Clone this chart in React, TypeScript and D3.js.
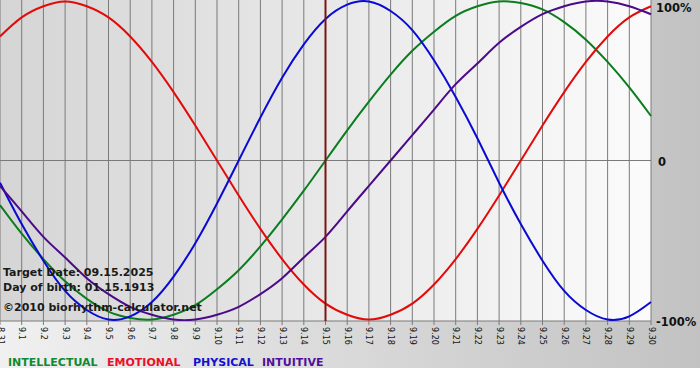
import React from "react";
import * as d3 from "d3";

const days = ["8.31","9.1","9.2","9.3","9.4","9.5","9.6","9.7","9.8","9.9","9.10","9.11","9.12","9.13","9.14","9.15","9.16","9.17","9.18","9.19","9.20","9.21","9.22","9.23","9.24","9.25","9.26","9.27","9.28","9.29","9.30"];

const physical = [-0.14,-0.40,-0.63,-0.82,-0.94,-1.00,-0.98,-0.89,-0.73,-0.52,-0.27,0.00,0.27,0.52,0.73,0.89,0.98,1.00,0.94,0.82,0.63,0.40,0.14,-0.14,-0.40,-0.63,-0.82,-0.94,-1.00,-0.98,-0.89];
const emotional = [0.78,0.90,0.97,1.00,0.97,0.90,0.78,0.62,0.43,0.22,0.00,-0.22,-0.43,-0.62,-0.78,-0.90,-0.97,-1.00,-0.97,-0.90,-0.78,-0.62,-0.43,-0.22,0.00,0.22,0.43,0.62,0.78,0.90,0.97];
const intellectual = [-0.28,-0.46,-0.62,-0.76,-0.87,-0.95,-0.99,-1.00,-0.97,-0.91,-0.81,-0.69,-0.54,-0.37,-0.19,0.00,0.19,0.37,0.54,0.69,0.81,0.91,0.97,1.00,0.99,0.95,0.87,0.76,0.62,0.46,0.28];
const intuitive = [-0.16,-0.32,-0.48,-0.61,-0.74,-0.84,-0.92,-0.97,-1.00,-1.00,-0.97,-0.92,-0.84,-0.74,-0.61,-0.48,-0.32,-0.16,0.00,0.16,0.32,0.48,0.61,0.74,0.84,0.92,0.97,1.00,1.00,0.97,0.92];

const targetIndex = 15;
const yTicks = [1, 0, -1];
const yTickLabels = ["100%", "0", "-100%"];
const infoLines = ["Target Date: 09.15.2025", "Day of birth: 01.15.1913", "\u00a92010 biorhythm-calculator.net"];

const series = [
  { name: "INTELLECTUAL", values: intellectual, color: "#0a7d1e", legend: "#0e8a34" },
  { name: "EMOTIONAL", values: emotional, color: "#e30a0a", legend: "#e8102a" },
  { name: "PHYSICAL", values: physical, color: "#0a0ad2", legend: "#1212d0" },
  { name: "INTUITIVE", values: intuitive, color: "#4b0a8a", legend: "#520f9a" },
];

export default function App() {
  const W = 700, H = 380;
  const plotW = 651, plotB = 321;
  const x = d3.scaleLinear().domain([0, days.length - 1]).range([0, plotW]);
  const y = d3.scaleLinear().domain([-1, 1]).range([319.5, 1.5]);
  const lineGen = d3.line<number>().x((_, i) => x(i)).y((d) => y(d)).curve(d3.curveNatural);
  const font = "'DejaVu Sans', Verdana, sans-serif";

  const legendX = [8, 107, 193, 262];
  const yLabelBase = [12, 166, 326];

  return (
    <svg width={W} height={H} style={{ position: "absolute", left: 0, top: 0 }} fontFamily={font}>
      <defs>
        <linearGradient id="outer" x1="0" x2="1" y1="0" y2="0">
          <stop offset="0" stopColor="#f0f0f0" />
          <stop offset="1" stopColor="#c2c2c2" />
        </linearGradient>
        <linearGradient id="plot" x1="0" x2="1" y1="0" y2="0">
          <stop offset="0" stopColor="#d5d5d5" />
          <stop offset="1" stopColor="#fbfbfb" />
        </linearGradient>
        <clipPath id="clip">
          <rect x={0} y={0} width={plotW + 1} height={plotB} />
        </clipPath>
      </defs>
      <rect x={0} y={0} width={W} height={H} fill="#ffffff" />
      <rect x={0} y={0} width={W} height={368} fill="url(#outer)" />
      <rect x={0} y={0} width={plotW} height={plotB} fill="url(#plot)" />

      {days.map((d, i) => (
        <line key={"g" + i} x1={x(i)} x2={x(i)} y1={0} y2={plotB + 4} stroke="#7a7a7a" strokeWidth={1} />
      ))}
      <line x1={0} x2={plotW} y1={y(0)} y2={y(0)} stroke="#7a7a7a" strokeWidth={1} />
      <line x1={0} x2={plotW} y1={plotB} y2={plotB} stroke="#7a7a7a" strokeWidth={1} />

      <g clipPath="url(#clip)">
        {series.map((s) => (
          <path key={s.name} d={lineGen(s.values) || ""} fill="none" stroke={s.color} strokeWidth={2} />
        ))}
      </g>
      <line x1={x(targetIndex)} x2={x(targetIndex)} y1={0} y2={plotB} stroke="#7a1414" strokeWidth={2} />

      {days.map((d, i) => (
        <text key={"t" + i} transform={`translate(${x(i)},${plotB + 6}) rotate(90)`} fontSize={8} dominantBaseline="central" fill="#111">
          {d}
        </text>
      ))}

      {yTicks.map((t, i) => (
        <text key={"y" + i} x={i === 1 ? 658 : 656} y={yLabelBase[i]} fontSize={11.5} fontWeight="bold" fill="#111">
          {yTickLabels[i]}
        </text>
      ))}

      {infoLines.map((t, i) => (
        <text key={"i" + i} x={3} y={[276, 291, 311][i]} fontSize={11} fontWeight="bold" fill="#1a1a1a">
          {t}
        </text>
      ))}

      {series.map((s, i) => (
        <text key={"l" + i} x={legendX[i]} y={366} fontSize={11} fontWeight="bold" fill={s.legend}>
          {s.name}
        </text>
      ))}
    </svg>
  );
}
